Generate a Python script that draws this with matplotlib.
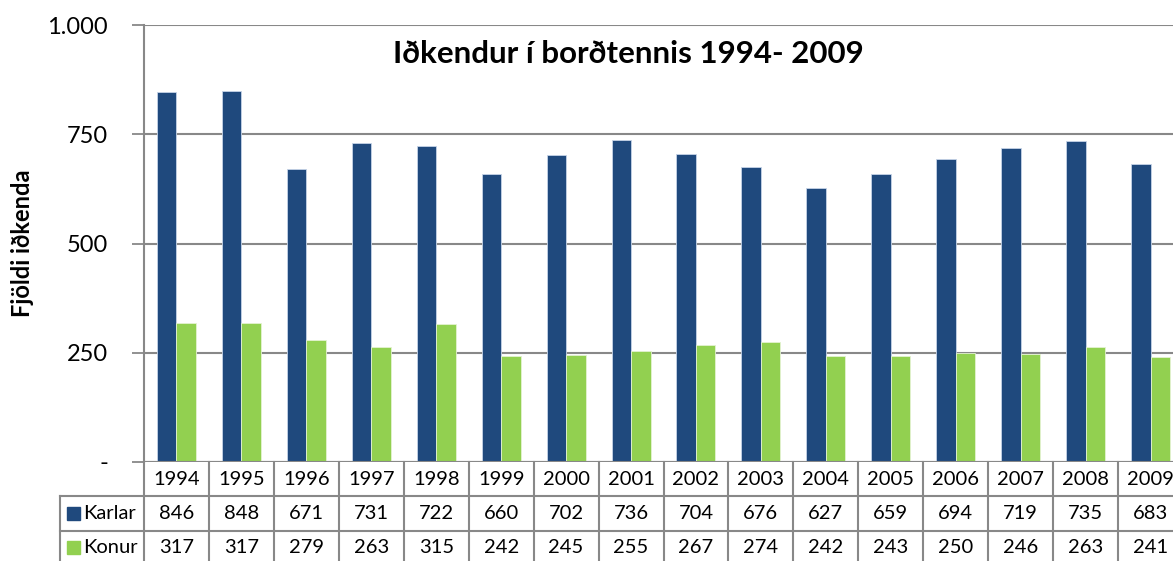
import matplotlib
matplotlib.use('Agg')
import matplotlib.pyplot as plt
import matplotlib.transforms as mtransforms
import numpy as np

# Gögn
years = ['1994', '1995', '1996', '1997', '1998', '1999', '2000', '2001',
         '2002', '2003', '2004', '2005', '2006', '2007', '2008', '2009']
karlar = [846, 848, 671, 731, 722, 660, 702, 736, 704, 676, 627, 659, 694, 719, 735, 683]
konur = [317, 317, 279, 263, 315, 242, 245, 255, 267, 274, 242, 243, 250, 246, 263, 241]
series_names = ['Karlar', 'Konur']
y_ticks = [0, 250, 500, 750, 1000]
y_ticklabels = ['-', '250', '500', '750', '1.000']

blue = '#1F497D'
green = '#92D050'
grid_col = '#888888'

plt.rcParams['font.family'] = ['Lato', 'DejaVu Sans']

W, H = 1173, 561
fig = plt.figure(figsize=(W / 100, H / 100), dpi=100)

# plot area in pixels (right edge goes past the picture, like in the original)
left, right, top, bottom = 144, 1183, 25, 462
ax = fig.add_axes([left / W, 1 - bottom / H, (right - left) / W, (bottom - top) / H])

x = np.arange(len(years))
bw = 0.3
ax.bar(x - bw / 2, karlar, bw, color=blue, edgecolor='#C6D4E8', linewidth=0.6, zorder=3)
ax.bar(x + bw / 2, konur, bw, color=green, edgecolor='#E4F2D2', linewidth=0.6, zorder=3)

ax.set_xlim(-0.5, len(years) - 0.5)
ax.set_ylim(0, 1000)
ax.set_yticks(y_ticks)
ax.set_yticklabels(y_ticklabels, fontsize=17)
ax.tick_params(axis='y', length=9, width=1.3, color=grid_col, pad=17)
ax.set_xticks([])
ax.yaxis.grid(True, color=grid_col, linewidth=1.5, zorder=0)
for s in ['top', 'right', 'bottom']:
    ax.spines[s].set_visible(False)
ax.spines['left'].set_color(grid_col)
ax.spines['left'].set_linewidth(1.5)
ax.axhline(0, color=grid_col, linewidth=1.5, zorder=4)

# tafla undir myndinni
tr = mtransforms.blended_transform_factory(ax.transData, ax.transAxes)
row_h = 34.3 / (bottom - top)
n = len(years)
lw = 1.5
# láréttar línur
for r in [1, 2]:
    y = -r * row_h
    ax.plot([-0.5 - 84 / 65, n - 0.5], [y, y], transform=tr, color=grid_col,
            linewidth=lw, clip_on=False)
# lóðréttar línur
for k in range(n + 1):
    ax.plot([k - 0.5, k - 0.5], [0, -3.2 * row_h], transform=tr, color=grid_col,
            linewidth=lw, clip_on=False)
ax.plot([-0.5 - 84 / 65] * 2, [-row_h, -3.2 * row_h], transform=tr, color=grid_col,
        linewidth=lw, clip_on=False)

rows = [karlar, konur]
for k in range(n):
    ax.text(k, -0.5 * row_h, years[k], transform=tr, ha='center', va='center',
            fontsize=14.5, clip_on=False)
    for r, vals in enumerate(rows):
        ax.text(k, -(r + 1.5) * row_h, str(vals[k]), transform=tr, ha='center',
                va='center', fontsize=14.5, clip_on=False)

# skýringar í töflunni
for r, (name, col) in enumerate(zip(series_names, [blue, green])):
    yc = 1 - (bottom + (r + 1.5) * 34.3) / H
    fig.patches.append(plt.Rectangle((67 / W, yc - 6.5 / H), 13 / W, 13 / H,
                                     transform=fig.transFigure, color=col))
    fig.text(83 / W, yc, name, ha='left', va='center', fontsize=14.5)

fig.text(628 / W, 1 - 54 / H, 'Iðkendur í borðtennis 1994- 2009', ha='center',
         va='center', fontsize=22.5, fontweight='bold')
fig.text(23 / W, 1 - 243 / H, 'Fjöldi iðkenda', rotation=90, ha='center',
         va='center', fontsize=17, fontweight='bold')

fig.savefig('out.png', dpi=100)
